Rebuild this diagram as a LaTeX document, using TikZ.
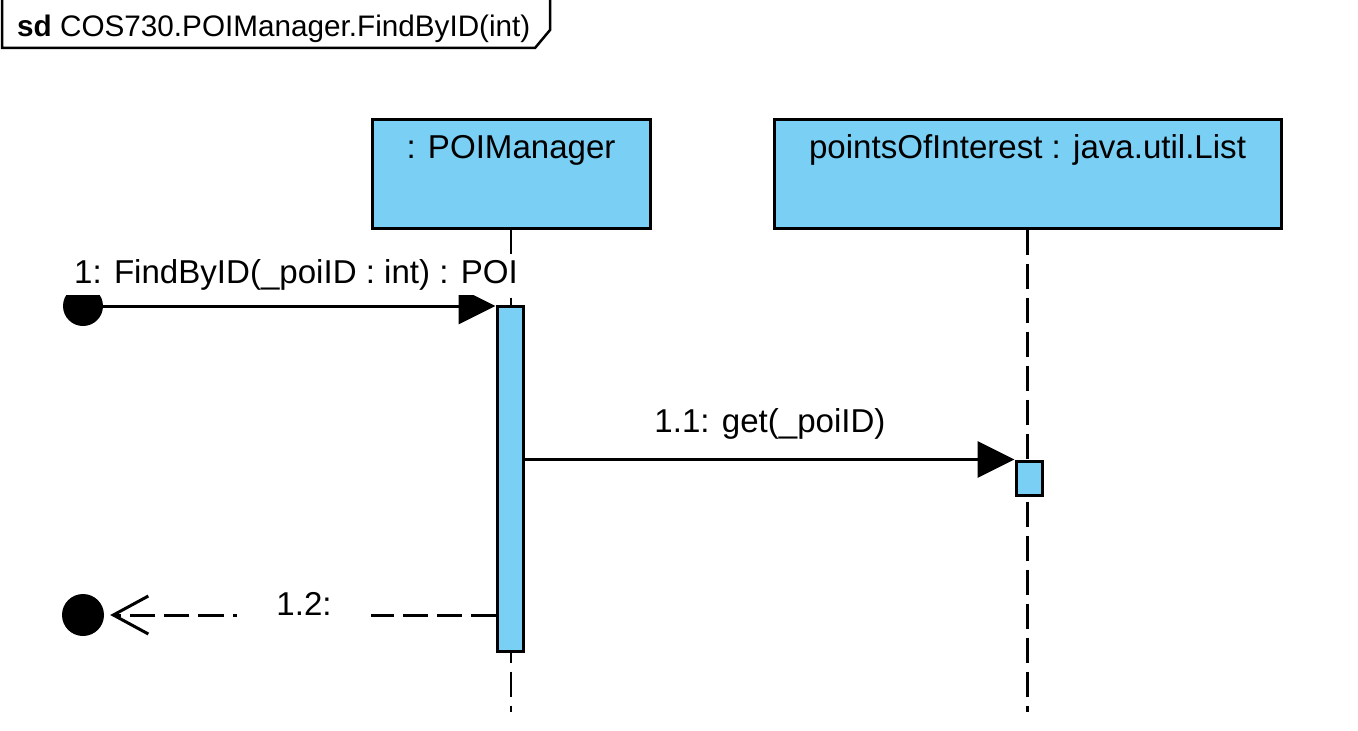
\documentclass[tikz,border=0pt]{standalone}
\usepackage{fontspec}
\setmainfont{Liberation Sans}
\usetikzlibrary{arrows.meta}
\definecolor{lifefill}{RGB}{122,207,245}
\begin{document}
\begin{tikzpicture}[x=1bp,y=-1bp,
  headbox/.style={draw, line width=3bp, fill=lifefill, inner sep=0},
  actbox/.style={draw, line width=3bp, fill=lifefill, inner sep=0, minimum width=26bp},
  lbl/.style={font=\fontsize{33.2}{40}\selectfont, inner sep=0},
  lifeline/.style={line width=2.5bp, dash pattern=on 25bp off 9bp},
  msg/.style={line width=3bp, -{Triangle[length=37bp,width=36bp]}},
  retmsg/.style={line width=3bp, dash pattern=on 25bp off 9bp, -{Straight Barb[length=35bp,width=38bp]}},
  endpt/.style={circle, fill=black, inner sep=0}]
\useasboundingbox (0,0) rectangle (1358,730);
% frame label
\draw[line width=2.5bp] (2,-5) -- (2,48) -- (535,48) -- (550,30) -- (550,-5);
\node[anchor=base west, font=\fontsize{29.8}{36}\selectfont, inner sep=0] (sdlbl) at (17,37) {\textbf{sd} COS730.POIManager.FindByID(int)};
% lifeline heads
\node[headbox, minimum width=278bp, minimum height=108bp] (poim) at (511,174) {};
\node[lbl, anchor=base] (poimtxt) at (511,158) {: POIManager};
\node[headbox, minimum width=507bp, minimum height=108bp] (list) at (1027.5,174) {};
\node[lbl, anchor=base] (listtxt) at (1027.5,158) {pointsOfInterest : java.util.List};
\coordinate (poimend) at (511,712);
\coordinate (listend) at (1027.5,712);
\draw[lifeline] (poim.south) -- (poimend);
\draw[lifeline] (list.south) -- (listend);
% activations
\node[actbox, minimum height=345bp] (act1) at (510,478.5) {};
\node[actbox, minimum height=34bp] (act2) at (1029,478) {};
% found message
\node[endpt, minimum size=40bp] (found) at (83,306) {};
\draw[msg] (found.center) -- (found.center -| act1.west);
\node[lbl, anchor=base, fill=white, minimum width=462bp, inner xsep=0, inner ysep=0, text height=29bp, text depth=12bp] (m1lbl) at (296,283) {1: FindByID(\_poiID : int) : POI};
% message 1.1
\draw[msg] (act1.east |- act2.north) -- (act2.north west);
\node[lbl, anchor=base] (m2lbl) at (770,432) {1.1: get(\_poiID)};
% lost message
\node[endpt, minimum size=42bp] (lost) at (83,615) {};
\draw[retmsg, shorten >=6bp] (act1.west |- lost) -- (lost);
\node[lbl, anchor=base, fill=white, minimum width=134bp, inner xsep=0, inner ysep=6bp] (m3lbl) at (304,615) {1.2:};
\end{tikzpicture}
\end{document}
